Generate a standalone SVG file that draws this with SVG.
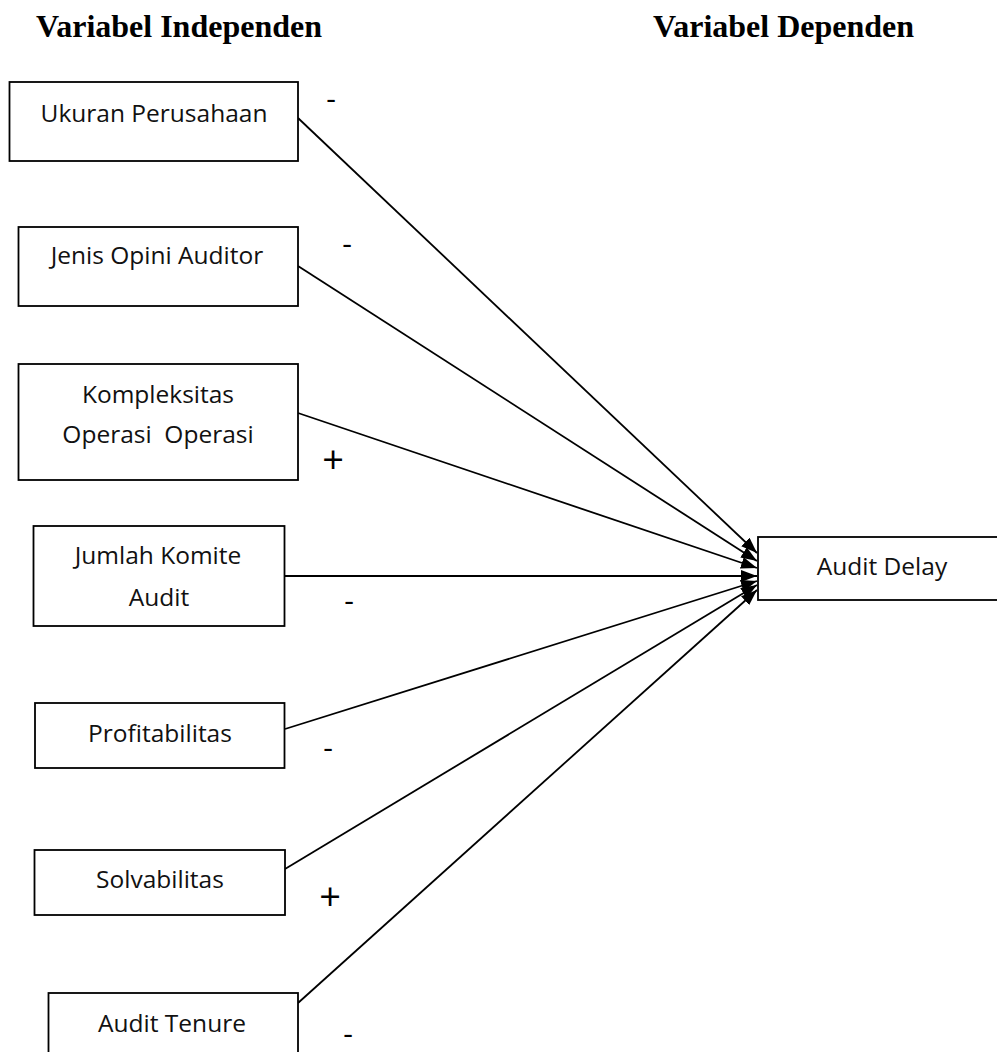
<svg xmlns="http://www.w3.org/2000/svg" width="997" height="1052" viewBox="0 0 997 1052">
<defs>
<style>
.box{fill:#fff;stroke:#000;stroke-width:1.8}
.lbl{font-family:"Open Sans","Noto Sans",sans-serif;font-size:24.5px;fill:#111;text-anchor:middle}
.hdr{font-family:"Liberation Serif","Times New Roman",serif;font-weight:bold;font-size:32px;fill:#000}
.sign{font-family:"Open Sans","Noto Sans",sans-serif;font-size:38px;fill:#000;text-anchor:middle}
.minus{font-family:"Open Sans","Noto Sans",sans-serif;font-size:30px;fill:#000;text-anchor:middle}
.conn{stroke:#000;stroke-width:1.8;fill:none;marker-end:url(#ah)}
</style>
<marker id="ah" markerUnits="userSpaceOnUse" markerWidth="16" markerHeight="12" refX="16" refY="6" orient="auto">
<path d="M0,0 L16,6 L0,12 z" fill="#000"/>
</marker>
</defs>
<rect width="997" height="1052" fill="#fff"/>
<text class="hdr" x="36" y="37">Variabel Independen</text>
<text class="hdr" x="653" y="37">Variabel Dependen</text>
<g id="connectors">
<line class="conn" x1="298" y1="118" x2="757" y2="553"/>
<line class="conn" x1="298" y1="266" x2="757" y2="561"/>
<line class="conn" x1="298" y1="413" x2="757" y2="568"/>
<line class="conn" x1="285" y1="576" x2="757" y2="576"/>
<line class="conn" x1="285" y1="729" x2="757" y2="581"/>
<line class="conn" x1="285" y1="869" x2="757" y2="585"/>
<line class="conn" x1="298" y1="1003" x2="757" y2="590"/>
</g>
<g id="ukuran">
<rect class="box" x="9.5" y="82" width="288.5" height="79"/>
<text class="lbl" x="154" y="122">Ukuran Perusahaan</text>
</g>
<g id="jenis">
<rect class="box" x="18.5" y="227" width="279.5" height="79"/>
<text class="lbl" x="157" y="264">Jenis Opini Auditor</text>
</g>
<g id="kompleksitas">
<rect class="box" x="18.5" y="364" width="279.5" height="116"/>
<text class="lbl" x="158" y="403">Kompleksitas</text>
<text class="lbl" x="158" y="443" xml:space="preserve">Operasi  Operasi</text>
</g>
<g id="jumlah">
<rect class="box" x="33.5" y="526" width="251" height="100"/>
<text class="lbl" x="158" y="564">Jumlah Komite</text>
<text class="lbl" x="159" y="606">Audit</text>
</g>
<g id="profitabilitas">
<rect class="box" x="35" y="703" width="249.5" height="65"/>
<text class="lbl" x="160" y="742">Profitabilitas</text>
</g>
<g id="solvabilitas">
<rect class="box" x="34.5" y="850" width="250.5" height="65"/>
<text class="lbl" x="160" y="888">Solvabilitas</text>
</g>
<g id="tenure">
<rect class="box" x="48.5" y="993" width="249.5" height="80"/>
<text class="lbl" x="172" y="1032">Audit Tenure</text>
</g>
<g id="auditdelay">
<rect class="box" x="758" y="537" width="250" height="63"/>
<text class="lbl" x="882" y="575">Audit Delay</text>
</g>
<g id="signs">
<text class="minus" x="331" y="109">-</text>
<text class="minus" x="347" y="254">-</text>
<text class="sign" x="333" y="473">+</text>
<text class="minus" x="349" y="611">-</text>
<text class="minus" x="328" y="758">-</text>
<text class="sign" x="330" y="910">+</text>
<text class="minus" x="348" y="1044">-</text>
</g>
</svg>
